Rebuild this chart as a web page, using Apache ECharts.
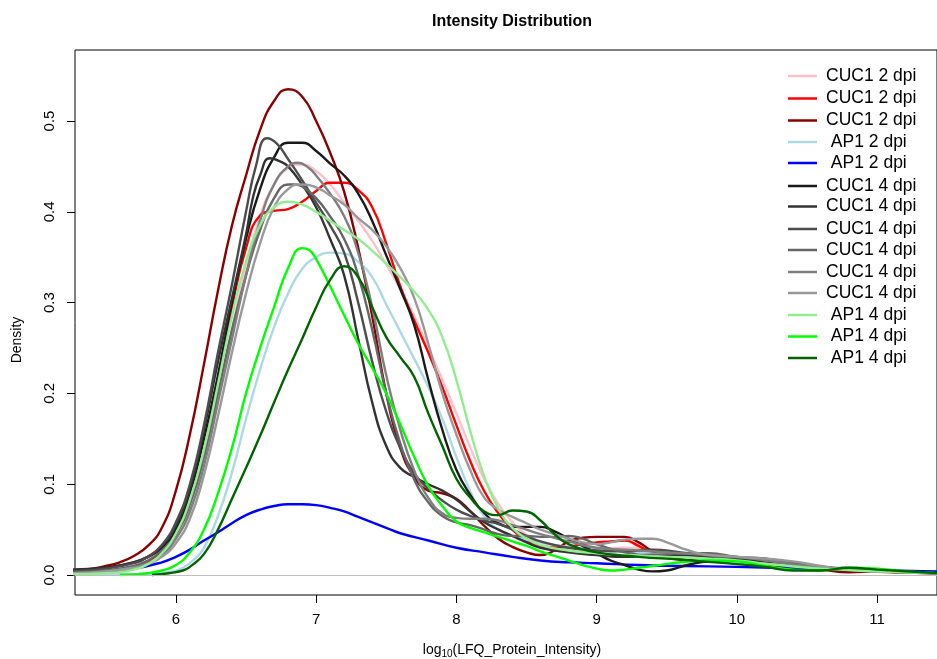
<!DOCTYPE html>
<html>
<head>
<meta charset="utf-8">
<title>Intensity Distribution</title>
<script src="https://cdn.jsdelivr.net/npm/echarts@6/dist/echarts.min.js"></script>
<style>
  html, body { margin: 0; padding: 0; background: #fff; }
  #chart { width: 937px; height: 659px; }
</style>
</head>
<body>
<div id="chart"></div>
<script>
// Kernel density estimates of log10 LFQ protein intensity, one curve per sample.
// Each entry is [log10 intensity, density].
const cuc1_2dpi_a = [[5.25,0.002],[5.5,0.004],[5.7,0.008],[5.8,0.013],[5.9,0.022],[6.0,0.04],[6.1,0.072],[6.2,0.125],[6.3,0.195],[6.4,0.27],[6.5,0.34],[6.6,0.395],[6.7,0.43],[6.8,0.448],[6.9,0.452],[7.0,0.445],[7.1,0.43],[7.2,0.41],[7.3,0.39],[7.4,0.368],[7.5,0.342],[7.6,0.315],[7.7,0.285],[7.8,0.25],[7.9,0.215],[8.0,0.178],[8.1,0.14],[8.2,0.105],[8.3,0.078],[8.4,0.058],[8.5,0.044],[8.6,0.036],[8.7,0.032],[8.8,0.03],[9.0,0.029],[9.2,0.03],[9.4,0.028],[9.6,0.023],[9.8,0.019],[10.0,0.016],[10.3,0.012],[10.6,0.008],[11.0,0.004],[11.45,0.002]];
const cuc1_2dpi_b = [[5.25,0.002],[5.5,0.004],[5.7,0.009],[5.8,0.015],[5.9,0.026],[6.0,0.045],[6.1,0.08],[6.2,0.135],[6.3,0.215],[6.4,0.295],[6.5,0.36],[6.6,0.396],[6.7,0.401],[6.8,0.403],[6.9,0.411],[7.0,0.423],[7.1,0.432],[7.2,0.432],[7.3,0.424],[7.4,0.405],[7.5,0.365],[7.6,0.318],[7.7,0.28],[7.8,0.245],[7.9,0.207],[8.0,0.165],[8.1,0.125],[8.2,0.092],[8.3,0.068],[8.4,0.05],[8.5,0.038],[8.6,0.032],[8.7,0.03],[8.8,0.031],[8.9,0.034],[9.0,0.036],[9.1,0.037],[9.2,0.038],[9.3,0.032],[9.4,0.024],[9.5,0.019],[9.7,0.016],[10.0,0.015],[10.3,0.011],[10.6,0.007],[10.9,0.004],[11.45,0.002]];
const cuc1_2dpi_c = [[5.25,0.005],[5.4,0.007],[5.5,0.01],[5.6,0.014],[5.7,0.021],[5.8,0.032],[5.9,0.052],[6.0,0.093],[6.1,0.155],[6.2,0.232],[6.3,0.313],[6.4,0.385],[6.5,0.44],[6.6,0.49],[6.7,0.522],[6.8,0.535],[6.9,0.527],[7.0,0.5],[7.1,0.465],[7.2,0.422],[7.3,0.36],[7.4,0.285],[7.5,0.2],[7.6,0.14],[7.7,0.108],[7.8,0.093],[7.9,0.09],[8.0,0.084],[8.1,0.07],[8.2,0.054],[8.3,0.04],[8.4,0.031],[8.5,0.025],[8.6,0.022],[8.7,0.027],[8.8,0.037],[8.9,0.041],[9.0,0.042],[9.1,0.042],[9.2,0.042],[9.3,0.036],[9.4,0.026],[9.5,0.02],[9.7,0.016],[10.0,0.014],[10.3,0.01],[10.6,0.006],[10.8,0.003],[11.0,0.004],[11.45,0.003]];
const ap1_2dpi_a = [[5.25,0.001],[5.8,0.001],[5.95,0.003],[6.05,0.008],[6.15,0.02],[6.2,0.03],[6.3,0.065],[6.4,0.113],[6.5,0.172],[6.6,0.226],[6.7,0.273],[6.8,0.31],[6.9,0.337],[7.0,0.35],[7.1,0.355],[7.2,0.354],[7.3,0.345],[7.4,0.328],[7.5,0.298],[7.6,0.268],[7.7,0.238],[7.8,0.207],[7.9,0.172],[8.0,0.13],[8.1,0.092],[8.2,0.064],[8.3,0.05],[8.4,0.043],[8.6,0.036],[8.8,0.031],[9.0,0.028],[9.3,0.025],[9.6,0.02],[10.0,0.014],[10.5,0.01],[11.0,0.006],[11.45,0.004]];
const ap1_2dpi_b = [[5.25,0.002],[5.5,0.004],[5.7,0.007],[5.9,0.014],[6.0,0.02],[6.1,0.028],[6.2,0.038],[6.3,0.047],[6.4,0.057],[6.5,0.066],[6.6,0.072],[6.7,0.076],[6.8,0.078],[6.9,0.078],[7.0,0.077],[7.1,0.074],[7.2,0.07],[7.3,0.064],[7.4,0.058],[7.5,0.052],[7.6,0.046],[7.8,0.038],[8.0,0.03],[8.2,0.025],[8.4,0.02],[8.6,0.016],[8.8,0.014],[9.0,0.013],[9.3,0.011],[9.6,0.01],[10.0,0.009],[10.5,0.007],[11.0,0.005],[11.45,0.004]];
const cuc1_4dpi_a = [[5.25,0.005],[5.5,0.008],[5.7,0.014],[5.8,0.02],[5.9,0.03],[6.0,0.05],[6.1,0.09],[6.2,0.15],[6.3,0.22],[6.4,0.3],[6.5,0.37],[6.6,0.425],[6.7,0.46],[6.8,0.476],[6.9,0.476],[7.0,0.467],[7.1,0.453],[7.2,0.44],[7.3,0.42],[7.4,0.39],[7.5,0.352],[7.6,0.315],[7.7,0.275],[7.8,0.215],[7.9,0.16],[8.0,0.116],[8.1,0.088],[8.2,0.068],[8.3,0.057],[8.4,0.053],[8.5,0.053],[8.6,0.053],[8.7,0.048],[8.8,0.04],[8.9,0.032],[9.0,0.024],[9.1,0.016],[9.2,0.011],[9.3,0.006],[9.4,0.004],[9.5,0.005],[9.6,0.009],[9.7,0.013],[9.8,0.015],[10.0,0.016],[10.2,0.015],[10.4,0.012],[10.6,0.009],[10.8,0.006],[11.0,0.004],[11.45,0.002]];
const cuc1_4dpi_b = [[5.25,0.006],[5.5,0.008],[5.7,0.014],[5.8,0.02],[5.9,0.032],[6.0,0.055],[6.1,0.095],[6.2,0.16],[6.3,0.235],[6.4,0.305],[6.5,0.375],[6.55,0.416],[6.6,0.44],[6.67,0.459],[6.75,0.455],[6.8,0.45],[6.9,0.43],[7.0,0.405],[7.1,0.37],[7.2,0.33],[7.3,0.26],[7.4,0.19],[7.5,0.142],[7.6,0.118],[7.7,0.108],[7.8,0.1],[7.9,0.093],[8.0,0.083],[8.1,0.07],[8.2,0.058],[8.3,0.05],[8.4,0.043],[8.5,0.036],[8.6,0.03],[8.8,0.025],[9.0,0.022],[9.2,0.02],[9.4,0.022],[9.6,0.022],[9.8,0.02],[10.0,0.018],[10.2,0.016],[10.4,0.012],[10.7,0.007],[11.0,0.004],[11.45,0.002]];
const cuc1_4dpi_c = [[5.25,0.004],[5.5,0.007],[5.7,0.013],[5.8,0.02],[5.9,0.033],[6.0,0.058],[6.1,0.1],[6.2,0.165],[6.3,0.245],[6.4,0.32],[6.5,0.4],[6.57,0.45],[6.65,0.481],[6.72,0.475],[6.8,0.458],[6.9,0.435],[7.0,0.41],[7.1,0.385],[7.2,0.355],[7.3,0.3],[7.4,0.235],[7.5,0.18],[7.6,0.14],[7.7,0.112],[7.8,0.095],[7.9,0.082],[8.0,0.072],[8.1,0.065],[8.2,0.06],[8.3,0.056],[8.4,0.05],[8.5,0.043],[8.6,0.037],[8.8,0.03],[9.0,0.027],[9.2,0.026],[9.4,0.028],[9.6,0.025],[9.8,0.021],[10.0,0.019],[10.2,0.018],[10.4,0.013],[10.7,0.007],[11.0,0.004],[11.45,0.002]];
const cuc1_4dpi_d = [[5.25,0.003],[5.5,0.005],[5.7,0.01],[5.8,0.016],[5.9,0.027],[6.0,0.045],[6.1,0.078],[6.2,0.13],[6.3,0.2],[6.4,0.27],[6.5,0.33],[6.6,0.38],[6.7,0.415],[6.8,0.43],[6.85,0.43],[6.9,0.428],[7.0,0.415],[7.1,0.395],[7.2,0.37],[7.3,0.33],[7.4,0.27],[7.5,0.2],[7.6,0.145],[7.7,0.105],[7.8,0.08],[7.9,0.065],[8.0,0.058],[8.1,0.055],[8.2,0.05],[8.3,0.045],[8.4,0.043],[8.5,0.043],[8.6,0.042],[8.7,0.042],[8.8,0.043],[8.9,0.04],[9.0,0.034],[9.2,0.025],[9.4,0.022],[9.6,0.024],[9.8,0.024],[10.0,0.02],[10.2,0.018],[10.5,0.011],[11.0,0.004],[11.45,0.002]];
const cuc1_4dpi_e = [[5.25,0.002],[5.5,0.004],[5.7,0.008],[5.8,0.013],[5.9,0.022],[6.0,0.04],[6.1,0.07],[6.2,0.12],[6.3,0.19],[6.4,0.26],[6.5,0.33],[6.6,0.39],[6.7,0.43],[6.8,0.45],[6.87,0.454],[6.95,0.448],[7.0,0.44],[7.1,0.42],[7.2,0.395],[7.3,0.355],[7.4,0.295],[7.5,0.22],[7.6,0.16],[7.7,0.115],[7.8,0.085],[7.9,0.068],[8.0,0.063],[8.1,0.062],[8.2,0.062],[8.3,0.06],[8.4,0.055],[8.5,0.05],[8.6,0.045],[8.8,0.037],[9.0,0.03],[9.2,0.028],[9.4,0.026],[9.6,0.024],[9.8,0.022],[10.0,0.02],[10.2,0.016],[10.5,0.01],[11.0,0.004],[11.45,0.002]];
const cuc1_4dpi_f = [[5.25,0.002],[5.5,0.004],[5.7,0.008],[5.8,0.012],[5.9,0.02],[6.0,0.035],[6.1,0.062],[6.2,0.11],[6.3,0.175],[6.4,0.245],[6.5,0.31],[6.6,0.365],[6.7,0.405],[6.8,0.425],[6.88,0.43],[7.0,0.427],[7.1,0.418],[7.2,0.408],[7.3,0.393],[7.4,0.38],[7.5,0.362],[7.6,0.338],[7.7,0.305],[7.8,0.255],[7.9,0.2],[8.0,0.155],[8.1,0.115],[8.2,0.085],[8.3,0.072],[8.4,0.064],[8.5,0.057],[8.6,0.05],[8.7,0.045],[8.8,0.04],[8.9,0.036],[9.0,0.034],[9.1,0.036],[9.2,0.039],[9.3,0.04],[9.4,0.04],[9.5,0.036],[9.6,0.03],[9.7,0.025],[9.8,0.022],[10.0,0.02],[10.2,0.018],[10.4,0.015],[10.6,0.01],[10.8,0.006],[11.0,0.004],[11.45,0.002]];
const ap1_4dpi_a = [[5.25,0.001],[5.5,0.002],[5.7,0.006],[5.8,0.012],[5.9,0.024],[6.0,0.046],[6.1,0.083],[6.2,0.138],[6.3,0.21],[6.4,0.285],[6.5,0.345],[6.6,0.385],[6.7,0.405],[6.8,0.411],[6.9,0.408],[7.0,0.4],[7.1,0.39],[7.2,0.38],[7.3,0.37],[7.4,0.357],[7.5,0.343],[7.6,0.328],[7.7,0.312],[7.8,0.292],[7.9,0.262],[8.0,0.215],[8.1,0.158],[8.2,0.108],[8.3,0.073],[8.4,0.052],[8.5,0.04],[8.6,0.033],[8.8,0.027],[9.0,0.024],[9.2,0.022],[9.5,0.02],[9.8,0.018],[10.0,0.016],[10.3,0.011],[10.6,0.007],[11.0,0.004],[11.45,0.002]];
const ap1_4dpi_b = [[5.6,0.0],[5.8,0.002],[5.9,0.005],[6.0,0.011],[6.1,0.025],[6.2,0.05],[6.3,0.09],[6.4,0.14],[6.5,0.2],[6.6,0.25],[6.7,0.295],[6.8,0.338],[6.9,0.36],[6.95,0.358],[7.0,0.348],[7.1,0.318],[7.2,0.286],[7.3,0.255],[7.4,0.228],[7.5,0.2],[7.6,0.166],[7.7,0.13],[7.8,0.098],[7.9,0.076],[8.0,0.059],[8.1,0.052],[8.2,0.047],[8.3,0.042],[8.4,0.037],[8.5,0.032],[8.6,0.026],[8.7,0.021],[8.8,0.016],[8.9,0.011],[9.0,0.007],[9.1,0.005],[9.2,0.006],[9.3,0.008],[9.4,0.01],[9.6,0.014],[9.8,0.016],[10.0,0.015],[10.2,0.01],[10.4,0.006],[10.6,0.005],[10.8,0.008],[11.0,0.007],[11.2,0.004],[11.45,0.002]];
const ap1_4dpi_c = [[5.83,0.0],[5.95,0.002],[6.05,0.005],[6.1,0.009],[6.2,0.023],[6.3,0.05],[6.4,0.084],[6.5,0.118],[6.6,0.153],[6.7,0.19],[6.8,0.226],[6.9,0.26],[7.0,0.295],[7.1,0.325],[7.2,0.34],[7.3,0.328],[7.4,0.295],[7.5,0.262],[7.6,0.24],[7.7,0.218],[7.8,0.178],[7.9,0.142],[8.0,0.106],[8.1,0.085],[8.2,0.07],[8.3,0.066],[8.4,0.071],[8.5,0.07],[8.6,0.06],[8.7,0.045],[8.8,0.034],[9.0,0.025],[9.3,0.02],[9.6,0.017],[10.0,0.012],[10.2,0.009],[10.4,0.005],[10.6,0.005],[10.8,0.008],[11.0,0.006],[11.45,0.002]];

// Legend labels in drawing order, and the matching line colours.
const sampleLabels = ['CUC1 2 dpi','CUC1 2 dpi','CUC1 2 dpi',' AP1 2 dpi',' AP1 2 dpi',
  'CUC1 4 dpi','CUC1 4 dpi','CUC1 4 dpi','CUC1 4 dpi','CUC1 4 dpi','CUC1 4 dpi',
  ' AP1 4 dpi',' AP1 4 dpi',' AP1 4 dpi'];
const sampleColors = ['#FFC0CB','#FF0000','#8B0000','#ADD8E6','#0000FF',
  '#1A1A1A','#333333','#4D4D4D','#666666','#7F7F7F','#999999',
  '#90EE90','#00FF00','#006400'];
const sampleCurves = [cuc1_2dpi_a, cuc1_2dpi_b, cuc1_2dpi_c, ap1_2dpi_a, ap1_2dpi_b,
  cuc1_4dpi_a, cuc1_4dpi_b, cuc1_4dpi_c, cuc1_4dpi_d, cuc1_4dpi_e, cuc1_4dpi_f,
  ap1_4dpi_a, ap1_4dpi_b, ap1_4dpi_c];

const xTicks = [6, 7, 8, 9, 10, 11];
const yTicks = [0, 0.1, 0.2, 0.3, 0.4, 0.5];

// Plot window
const X_MIN = 5.2806, X_MAX = 11.4273;
const Y_MIN = -0.022, Y_MAX = 0.5782;

const FONT = "'Liberation Sans', Arial, Helvetica, sans-serif";

// Legend row centres (px) for the stacked key in the top-right corner
const legendRowCenters = [76, 98.5, 120.5, 142, 163, 186, 206.5, 229, 250, 272, 293, 315, 336.5, 358];

const ids = sampleLabels.map((_, i) => 'sample' + (i + 1));
const labelById = {};
ids.forEach((id, i) => { labelById[id] = sampleLabels[i]; });

const series = sampleCurves.map((curve, i) => {
  const s = {
    type: 'line',
    name: ids[i],
    data: curve,
    smooth: 0.5,
    symbol: 'none',
    showSymbol: false,
    clip: true,
    silent: true,
    lineStyle: { color: sampleColors[i], width: 2.4, join: 'round' },
    itemStyle: { color: sampleColors[i] },
    z: 3
  };
  if (i === 0) {
    s.markLine = {
      silent: true,
      symbol: 'none',
      label: { show: false },
      lineStyle: { color: '#BEBEBE', type: 'solid', width: 1 },
      data: [{ yAxis: 0 }]
    };
  }
  return s;
});

const legends = ids.map((id, i) => ({
  data: [id],
  orient: 'vertical',
  left: 788,
  top: legendRowCenters[i] - 10,
  icon: 'rect',
  itemWidth: 29,
  itemHeight: 2.5,
  itemGap: 0,
  padding: 0,
  selectedMode: false,
  formatter: name => labelById[name],
  textStyle: {
    fontFamily: FONT, fontSize: 17.5, color: '#000', lineHeight: 20,
    padding: [0, 0, 0, 4]
  }
}));

const chart = echarts.init(document.getElementById('chart'), null, { renderer: 'canvas' });
chart.setOption({
  animation: false,
  backgroundColor: '#fff',
  grid: {
    left: 75, top: 50, width: 863, height: 545,
    show: true, borderColor: '#000', borderWidth: 1, backgroundColor: 'transparent',
    containLabel: false
  },
  xAxis: {
    type: 'value', min: X_MIN, max: X_MAX,
    axisLine: { show: false, onZero: false },
    splitLine: { show: false },
    axisTick: { show: true, customValues: xTicks, length: 8, lineStyle: { color: '#000', width: 1 } },
    axisLabel: { customValues: xTicks, color: '#000', fontSize: 15, fontFamily: FONT, margin: 17 }
  },
  yAxis: {
    type: 'value', min: Y_MIN, max: Y_MAX,
    axisLine: { show: false, onZero: false },
    splitLine: { show: false },
    axisTick: { show: true, customValues: yTicks, length: 8, lineStyle: { color: '#000', width: 1 } },
    axisLabel: {
      customValues: yTicks, color: '#000', fontSize: 15, fontFamily: FONT,
      rotate: 90, margin: 18, formatter: v => v.toFixed(1)
    }
  },
  legend: legends,
  series: series,
  graphic: [
    {
      type: 'text', x: 512, y: 22, silent: true,
      style: {
        text: 'Intensity Distribution', fill: '#000',
        font: "bold 16px 'Liberation Sans', Arial, sans-serif",
        align: 'center', verticalAlign: 'middle', textAlign: 'center', textVerticalAlign: 'middle'
      }
    },
    {
      type: 'text', x: 512, y: 651, silent: true,
      style: {
        text: '{a|log}{s|10}{a|(LFQ_Protein_Intensity)}',
        align: 'center', verticalAlign: 'middle', textAlign: 'center', textVerticalAlign: 'middle',
        rich: {
          a: { fontFamily: FONT, fontSize: 14, color: '#000', lineHeight: 16, verticalAlign: 'top' },
          s: { fontFamily: FONT, fontSize: 10, color: '#000', lineHeight: 10, verticalAlign: 'bottom', padding: [8, 0, 0, 0] }
        }
      }
    },
    {
      type: 'text', x: 17, y: 340, rotation: Math.PI / 2, silent: true,
      style: {
        text: 'Density', fill: '#000',
        font: "14px 'Liberation Sans', Arial, sans-serif",
        align: 'center', verticalAlign: 'middle', textAlign: 'center', textVerticalAlign: 'middle'
      }
    }
  ]
});
</script>
</body>
</html>
